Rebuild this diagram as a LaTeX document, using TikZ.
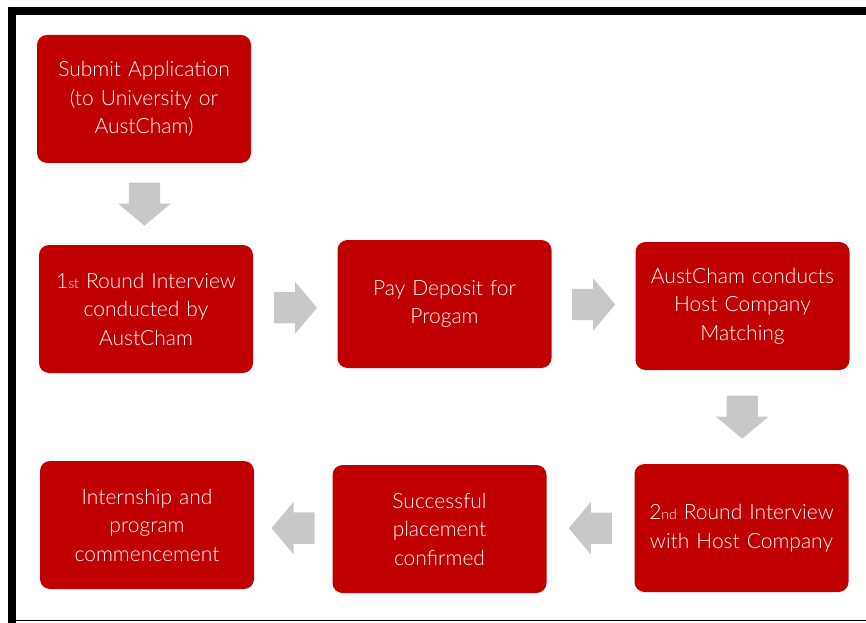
\documentclass[tikz,border=0pt]{standalone}
\usepackage{fontspec}
\setmainfont{Lato Light}
\usetikzlibrary{shapes.arrows,calc}
\definecolor{stepred}{HTML}{C00000}
\definecolor{arrowgray}{HTML}{C8C8C8}
\tikzset{
  stepbox/.style={rectangle, rounded corners=10pt, fill=stepred, text=white,
    minimum width=214pt, minimum height=128pt, text width=210pt, align=center,
    inner sep=0pt, font=\fontsize{21}{28.5}\selectfont},
  blockarrow/.style={single arrow, fill=arrowgray, inner xsep=0pt, inner ysep=15.5pt,
    minimum width=52pt, minimum height=43pt, anchor=tail,
    single arrow head extend=10.5pt, single arrow tip angle=100}
}
\newcommand{\ordsuf}[1]{{\fontsize{14}{14}\selectfont #1}}
\begin{document}
\begin{tikzpicture}[x=1pt,y=1pt]
      \useasboundingbox (0,0) rectangle (866,622);

      % Frame
      \draw[line width=8pt] (870,611) -- (12,611) -- (12,-2);
      \draw[line width=1.2pt] (12,1.5) -- (870,1.5);

      % Top row
      \node[stepbox] (submit) at (144,523) {Submit Application\\(to University or\\AustCham)};
      \node[stepbox] (first) at (146,313) {1\ordsuf{st} Round Interview\\conducted by\\AustCham};
      \node[stepbox] (deposit) at (444.5,318) {Pay Deposit for\\Progam};
      \node[stepbox] (matching) at (742.5,316) {AustCham conducts\\Host Company\\Matching};

      % Bottom row
      \node[stepbox] (second) at (741.5,94) {2\ordsuf{nd} Round Interview\\with Host Company};
      \node[stepbox] (placed) at (439.5,93) {Successful\\placement\\confirmed};
      \node[stepbox] (start) at (147,97) {Internship and\\program\\commencement};

      % Block arrows between steps (tail set back half a length from the midpoint)
      \node[blockarrow, rotate=-90] (a1) at ($(submit.south)!0.5!(first.north)!21.5pt!(submit.south)$) {};
      \node[blockarrow] (a2) at ($(first.east)!0.5!(deposit.west)!21.5pt!(first.east)$) {};
      \node[blockarrow] (a3) at ($(deposit.east)!0.5!(matching.west)!21.5pt!(deposit.east)$) {};
      \node[blockarrow, rotate=-90] (a4) at ($(matching.south)!0.5!(second.north)!21.5pt!(matching.south)$) {};
      \node[blockarrow, rotate=180] (a5) at ($(second.west)!0.5!(placed.east)!21.5pt!(second.west)$) {};
      \node[blockarrow, rotate=180] (a6) at ($(placed.west)!0.5!(start.east)!21.5pt!(placed.west)$) {};
    \end{tikzpicture}
\end{document}
